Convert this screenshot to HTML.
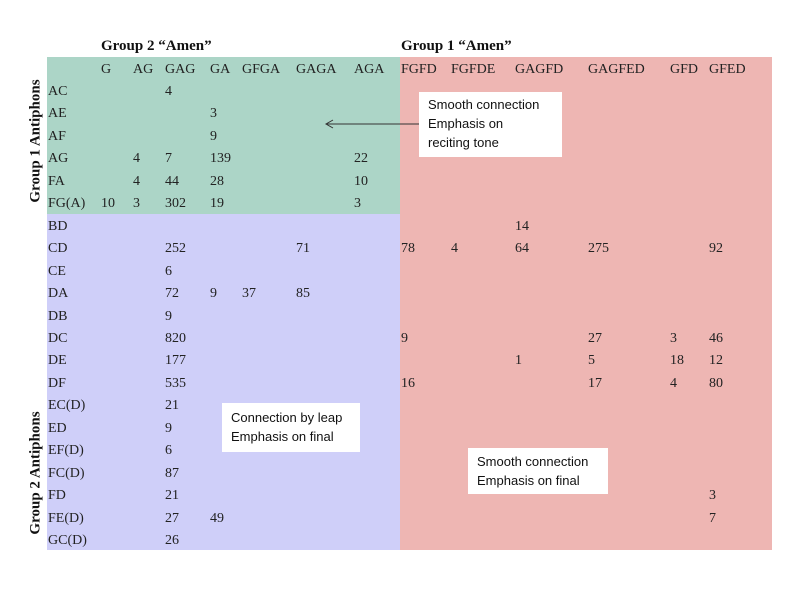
<!DOCTYPE html>
<html><head><meta charset="utf-8"><style>
body{margin:0;width:800px;height:600px;background:#fff;position:relative;overflow:hidden;font-family:"Liberation Serif",serif;}
.r{position:absolute}
.t{position:absolute;font-size:14px;color:#222;line-height:16px;white-space:nowrap}
.h{position:absolute;font-size:15px;font-weight:bold;color:#111;white-space:nowrap}
.box{position:absolute;background:#fff;font-family:"Liberation Sans",sans-serif;font-size:13px;line-height:19px;color:#111;padding:3px 0 0 9px;box-sizing:border-box}
</style></head><body>
<div class="r" style="left:47px;top:57px;width:353px;height:157px;background:#acd5c7"></div>
<div class="r" style="left:47px;top:214px;width:353px;height:336px;background:#cfcff9"></div>
<div class="r" style="left:400px;top:57px;width:372px;height:493px;background:#eeb6b3"></div>
<div class="h" style="left:101px;top:38px">Group 2 “Amen”</div>
<div class="h" style="left:401px;top:38px">Group 1 “Amen”</div>
<div class="h" style="left:36px;top:141px;transform:translate(-50%,-50%) rotate(-90deg)">Group 1 Antiphons</div>
<div class="h" style="left:36px;top:473px;transform:translate(-50%,-50%) rotate(-90deg)">Group 2 Antiphons</div>
<div id="grid"></div>
<div class="box" style="left:419px;top:92px;width:143px;height:65px">Smooth connection<br>Emphasis on<br>reciting tone</div>
<div class="box" style="left:222px;top:403px;width:138px;height:49px;padding-top:5px">Connection by leap<br>Emphasis on final</div>
<div class="box" style="left:468px;top:448px;width:140px;height:46px;padding-top:4px">Smooth connection<br>Emphasis on final</div>
<svg class="r" style="left:0;top:0" width="800" height="600"><line x1="419" y1="124" x2="326" y2="124" stroke="#333" stroke-width="1"/><polyline points="333,120 326,124 333,128" fill="none" stroke="#333"/></svg>
<script>
const cols=["G","AG","GAG","GA","GFGA","GAGA","AGA","FGFD","FGFDE","GAGFD","GAGFED","GFD","GFED"];
const rows=["AC","AE","AF","AG","FA","FG(A)","BD","CD","CE","DA","DB","DC","DE","DF","EC(D)","ED","EF(D)","FC(D)","FD","FE(D)","GC(D)"];
const counts=[
["","","4","","","","","","","","","",""],
["","","","3","","","","","","","","",""],
["","","","9","","","","","","","","",""],
["","4","7","139","","","22","","","","","",""],
["","4","44","28","","","10","","","","","",""],
["10","3","302","19","","","3","","","","","",""],
["","","","","","","","","","14","","",""],
["","","252","","","71","","78","4","64","275","","92"],
["","","6","","","","","","","","","",""],
["","","72","9","37","85","","","","","","",""],
["","","9","","","","","","","","","",""],
["","","820","","","","","9","","","27","3","46"],
["","","177","","","","","","","1","5","18","12"],
["","","535","","","","","16","","","17","4","80"],
["","","21","","","","","","","","","",""],
["","","9","","","","","","","","","",""],
["","","6","","","","","","","","","",""],
["","","87","","","","","","","","","",""],
["","","21","","","","","","","","","","3"],
["","","27","49","","","","","","","","","7"],
["","","26","","","","","","","","","",""]];
const colX=[101,133,165,210,242,296,354,401,451,515,588,670,709];
const y0=92,dy=22.45;
const g=document.getElementById('grid');
function add(txt,x,y,name){const d=document.createElement('div');d.className='t';d.textContent=txt;d.style.left=x+'px';d.style.top=(y-8)+'px';


g.appendChild(d);}
cols.forEach((c,i)=>add(c,colX[i],70,'col-header-'+c.toLowerCase()));
rows.forEach((r,j)=>{const y=y0+j*dy;add(r,48,y,'row-label-'+r.toLowerCase().replace(/[()]/g,''));
counts[j].forEach((v,i)=>{if(v!=='')add(v,colX[i]+ (j===13&&i===10?0:0),y,'cell-'+r.toLowerCase().replace(/[()]/g,'')+'-'+cols[i].toLowerCase());});});
</script>
</body></html>
